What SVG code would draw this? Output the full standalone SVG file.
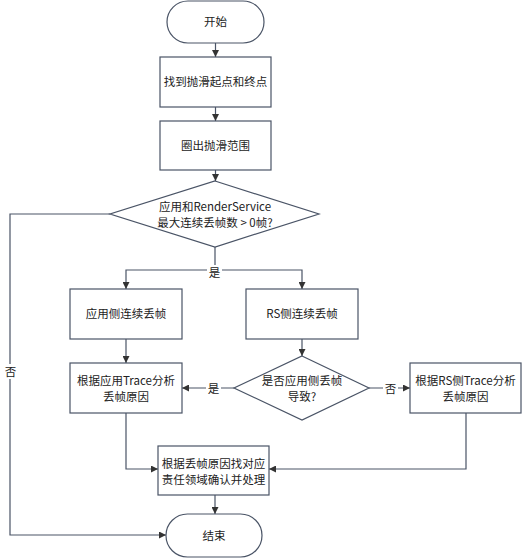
<svg xmlns="http://www.w3.org/2000/svg" width="526" height="559" viewBox="0 0 526 559">
<style>
.n{fill:#fff;stroke:#4a5466;stroke-width:1.2}
.t{font-family:"Noto Sans CJK SC","Microsoft YaHei",sans-serif;font-size:11.5px;fill:#222;text-anchor:middle}
.c{fill:none;stroke:#4a5466;stroke-width:1.2}
.lb{fill:#fff}
</style>
<defs>
<marker id="a" markerUnits="userSpaceOnUse" markerWidth="8" markerHeight="7" refX="7" refY="3.5" orient="auto">
<path d="M0,0 L7,3.5 L0,7 z" fill="#333"/>
</marker>
</defs>
<rect width="526" height="559" fill="#fff"/>
<g id="connectors">
<path class="c" d="M215.5,43 V57" marker-end="url(#a)"/>
<path class="c" d="M215.5,107 V121" marker-end="url(#a)"/>
<path class="c" d="M215.5,170 V181" marker-end="url(#a)"/>
<path class="c" d="M215,247 V270 H126 V289" marker-end="url(#a)"/>
<path class="c" d="M215,270 H302 V289" marker-end="url(#a)"/>
<path class="c" d="M126,339 V363" marker-end="url(#a)"/>
<path class="c" d="M302,339 V356" marker-end="url(#a)"/>
<path class="c" d="M234,388 H182" marker-end="url(#a)"/>
<path class="c" d="M369,388 H410" marker-end="url(#a)"/>
<path class="c" d="M126,413 V469 H158" marker-end="url(#a)"/>
<path class="c" d="M466,413 V469 H269" marker-end="url(#a)"/>
<path class="c" d="M215,495 V514" marker-end="url(#a)"/>
<path class="c" d="M110,214 H10 V535 H166" marker-end="url(#a)"/>
<rect class="lb" x="207" y="265" width="15" height="15"/>
<text class="t" x="214.5" y="277">是</text>
<rect class="lb" x="206" y="381" width="15" height="15"/>
<text class="t" x="213.5" y="393">是</text>
<rect class="lb" x="383" y="381" width="15" height="15"/>
<text class="t" x="390.5" y="393">否</text>
<rect class="lb" x="3" y="364" width="15" height="15"/>
<text class="t" x="10.5" y="376">否</text>
</g>
<g id="start">
<rect class="n" x="167" y="1" width="97" height="42" rx="21"/>
<text class="t" x="215.5" y="26">开始</text>
</g>
<g id="find">
<rect class="n" x="160" y="57" width="111" height="50"/>
<text class="t" x="215.5" y="86">找到抛滑起点和终点</text>
</g>
<g id="range">
<rect class="n" x="160" y="121" width="111" height="49"/>
<text class="t" x="215.5" y="150">圈出抛滑范围</text>
</g>
<g id="decision1">
<polygon class="n" points="215,181 319,214 215,247 110,214"/>
<text class="t" x="215" y="211">应用和RenderService</text>
<text class="t" x="215" y="227">最大连续丢帧数 &gt; 0帧?</text>
</g>
<g id="app">
<rect class="n" x="70" y="289" width="112" height="50"/>
<text class="t" x="126" y="318">应用侧连续丢帧</text>
</g>
<g id="rs">
<rect class="n" x="246" y="289" width="112" height="50"/>
<text class="t" x="302" y="318">RS侧连续丢帧</text>
</g>
<g id="decision2">
<polygon class="n" points="302,356 369,388 302,420 234,388"/>
<text class="t" x="302" y="385">是否应用侧丢帧</text>
<text class="t" x="302" y="401">导致?</text>
</g>
<g id="apptrace">
<rect class="n" x="70" y="363" width="112" height="50"/>
<text class="t" x="126" y="385">根据应用Trace分析</text>
<text class="t" x="126" y="401">丢帧原因</text>
</g>
<g id="rstrace">
<rect class="n" x="410" y="363" width="111" height="50"/>
<text class="t" x="465.5" y="385">根据RS侧Trace分析</text>
<text class="t" x="465.5" y="401">丢帧原因</text>
</g>
<g id="handle">
<rect class="n" x="158" y="446" width="111" height="49"/>
<text class="t" x="213.5" y="468">根据丢帧原因找对应</text>
<text class="t" x="213.5" y="484">责任领域确认并处理</text>
</g>
<g id="end">
<rect class="n" x="166" y="514" width="96" height="43" rx="21.5"/>
<text class="t" x="214" y="540">结束</text>
</g>
</svg>
